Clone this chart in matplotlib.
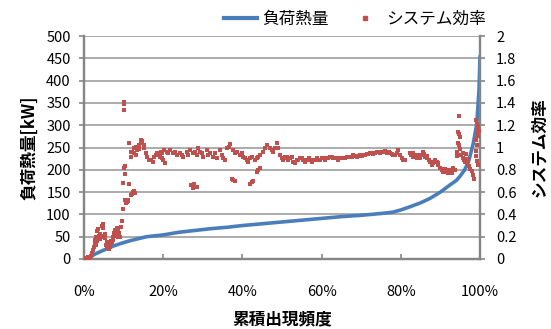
import numpy as np
import matplotlib
matplotlib.use("Agg")
import matplotlib.pyplot as plt
from matplotlib.lines import Line2D

plt.rcParams['font.family'] = ['Noto Sans CJK JP', 'DejaVu Sans']

# ---------------- data ----------------
load_x = [0, 0.010, 0.015, 0.020, 0.030, 0.040, 0.050, 0.074, 0.090, 0.116, 0.158, 0.200,
          0.240, 0.280, 0.320, 0.360, 0.400, 0.450, 0.500, 0.550, 0.600, 0.650, 0.700, 0.750,
          0.780, 0.800, 0.823, 0.850, 0.874, 0.900, 0.924, 0.940, 0.949, 0.960, 0.971, 0.983,
          0.992, 0.9975, 1.0]
load_y = [0, 0, 2, 7, 12, 16, 20, 29, 34, 41, 50, 54,
          60, 64, 68, 71, 75, 79, 83, 87, 91, 95, 98, 102,
          105, 110, 117, 126, 136, 150, 166, 176, 185, 198, 218, 259,
          304, 379, 455]

low_x = [0.003, 0.006, 0.009, 0.012, 0.015, 0.018, 0.021, 0.023, 0.025, 0.027, 0.028, 0.030,
         0.031, 0.033, 0.034, 0.036, 0.038, 0.040, 0.041, 0.043, 0.045, 0.047, 0.048, 0.050,
         0.052, 0.054, 0.055, 0.057, 0.058, 0.060, 0.062, 0.064, 0.066, 0.068, 0.070, 0.072,
         0.074, 0.076, 0.078, 0.079, 0.081, 0.083, 0.084, 0.086, 0.087, 0.089, 0.091, 0.093,
         0.096, 0.098]
low_y = [0.01, 0.00, 0.02, 0.01, 0.02, 0.03, 0.05, 0.08, 0.11, 0.14, 0.17, 0.13,
         0.20, 0.16, 0.25, 0.27, 0.21, 0.18, 0.22, 0.20, 0.30, 0.31, 0.28, 0.21,
         0.19, 0.22, 0.13, 0.15, 0.10, 0.12, 0.09, 0.14, 0.11, 0.16, 0.14, 0.17,
         0.20, 0.23, 0.21, 0.26, 0.24, 0.22, 0.28, 0.25, 0.20, 0.23, 0.20, 0.29,
         0.34, 0.45]

rise_x = [0.100, 0.101, 0.102, 0.101, 0.103, 0.104, 0.099, 0.113, 0.104, 0.106, 0.108, 0.110,
          0.112, 0.118, 0.121, 0.124, 0.127, 0.130]
rise_y = [1.41, 1.39, 1.34, 0.82, 0.83, 0.76, 0.68, 0.67, 0.53, 0.50, 0.51, 0.52,
          0.53, 0.57, 0.58, 0.60, 0.61, 0.59]

band_a_x = [0.114, 0.118, 0.122, 0.126, 0.131, 0.135, 0.139, 0.143, 0.147, 0.152, 0.156, 0.160,
            0.164, 0.168, 0.173, 0.177, 0.181, 0.185, 0.189, 0.194, 0.198, 0.202,
            0.118, 0.126, 0.139, 0.143, 0.147, 0.152, 0.131]
band_a_y = [1.037, 0.918, 0.962, 0.992, 1.007, 0.977, 1.022, 1.067, 1.037, 0.992, 0.947, 0.918,
            0.888, 0.888, 0.873, 0.918, 0.933, 0.947, 0.933, 0.962, 0.947, 0.977,
            0.96, 0.95, 0.99, 1.04, 1.06, 1.02, 0.93]

band_b_x = [0.192, 0.200, 0.205, 0.209, 0.217, 0.226, 0.234, 0.242, 0.251, 0.259, 0.268, 0.276,
            0.285, 0.289, 0.293, 0.301, 0.310, 0.318, 0.327, 0.335, 0.343, 0.352, 0.356, 0.360,
            0.365, 0.369, 0.377, 0.386, 0.394, 0.402, 0.411, 0.415, 0.423, 0.432, 0.440, 0.444,
            0.453, 0.461, 0.470, 0.478, 0.487, 0.491, 0.495, 0.503, 0.512, 0.520,
            0.196, 0.213, 0.230, 0.247, 0.263, 0.280, 0.297, 0.314, 0.331, 0.348, 0.381, 0.398,
            0.406, 0.419, 0.436, 0.457, 0.474, 0.482, 0.499, 0.516]
band_b_y = [0.917, 0.888, 0.858, 0.962, 0.977, 0.947, 0.932, 0.947, 0.917, 0.962, 0.977, 0.947,
            0.932, 0.992, 0.962, 0.917, 0.977, 0.947, 0.917, 0.902, 0.977, 0.902, 0.888, 0.992,
            1.007, 1.028, 0.977, 0.962, 0.932, 0.917, 0.888, 0.873, 0.917, 0.888, 0.917, 0.932,
            0.962, 1.022, 0.992, 0.962, 1.037, 0.992, 0.932, 0.888, 0.917, 0.902,
            0.902, 0.947, 0.962, 0.932, 0.932, 0.962, 0.947, 0.932, 0.947, 0.932, 0.947, 0.947,
            0.902, 0.902, 0.902, 0.992, 0.977, 0.992, 0.902, 0.888]

band_c_x = [0.508, 0.516, 0.524, 0.533, 0.541, 0.550, 0.558, 0.567, 0.575, 0.583, 0.592, 0.600,
            0.609, 0.617, 0.625, 0.634, 0.642, 0.651, 0.659, 0.668, 0.676, 0.684, 0.693, 0.701,
            0.710, 0.718, 0.726, 0.735, 0.743, 0.752, 0.760, 0.769, 0.777, 0.785, 0.794, 0.802,
            0.811,
            0.512, 0.520, 0.529, 0.537, 0.546, 0.554, 0.562, 0.571, 0.579, 0.588, 0.596, 0.604,
            0.613, 0.621, 0.630, 0.638, 0.647, 0.655, 0.663, 0.672, 0.680, 0.689, 0.697, 0.705,
            0.714, 0.722, 0.731, 0.739, 0.748, 0.756, 0.764, 0.773, 0.781, 0.790, 0.798, 0.806]
band_c_y = [0.917, 0.902, 0.917, 0.858, 0.888, 0.902, 0.873, 0.902, 0.873, 0.888, 0.888, 0.902,
            0.888, 0.902, 0.917, 0.902, 0.888, 0.902, 0.902, 0.917, 0.917, 0.926, 0.923, 0.926,
            0.932, 0.938, 0.947, 0.947, 0.956, 0.962, 0.968, 0.956, 0.938, 0.932, 0.977, 0.902,
            0.888,
            0.902, 0.902, 0.873, 0.888, 0.902, 0.888, 0.888, 0.888, 0.888, 0.902, 0.888, 0.902,
            0.902, 0.917, 0.902, 0.902, 0.902, 0.902, 0.917, 0.917, 0.932, 0.917, 0.932, 0.932,
            0.938, 0.947, 0.938, 0.956, 0.947, 0.962, 0.947, 0.947, 0.932, 0.947, 0.932, 0.888]

band_d_x = [0.823, 0.827, 0.832, 0.836, 0.840, 0.844, 0.848, 0.853, 0.857, 0.861, 0.865, 0.870,
            0.874, 0.878, 0.882, 0.886, 0.891, 0.895, 0.899, 0.903, 0.907, 0.912, 0.916, 0.920,
            0.924, 0.928, 0.933, 0.937,
            0.830, 0.845, 0.858, 0.866, 0.880, 0.893, 0.905, 0.914, 0.922, 0.930, 0.934]
band_d_y = [0.947, 0.933, 0.918, 0.933, 0.903, 0.918, 0.903, 0.933, 0.963, 0.918, 0.903, 0.888,
            0.873, 0.843, 0.858, 0.888, 0.873, 0.843, 0.813, 0.798, 0.784, 0.804, 0.784, 0.769,
            0.798, 0.784, 0.813, 0.798,
            0.95, 0.93, 0.94, 0.92, 0.87, 0.86, 0.81, 0.80, 0.79, 0.77, 0.80]

tail_x = [0.948, 0.945, 0.947, 0.949, 0.944, 0.946, 0.950, 0.943, 0.952, 0.956, 0.960, 0.964,
          0.962, 0.968, 0.972, 0.975, 0.979, 0.983, 0.986, 0.941, 0.958, 0.966, 0.970,
          0.990, 0.992, 0.994, 0.993, 0.991, 0.992, 0.990, 0.991, 0.993, 0.994, 0.996, 0.997,
          0.995]
tail_y = [1.28, 1.14, 1.12, 1.09, 1.04, 1.02, 0.99, 0.96, 0.93, 0.91, 0.89, 0.94,
          0.87, 0.85, 0.83, 0.81, 0.79, 0.75, 0.72, 0.92, 0.95, 0.90, 0.88,
          1.25, 1.21, 1.17, 1.13, 1.07, 1.02, 0.97, 0.92, 0.88, 0.84, 1.19, 1.15,
          1.10]

outlier_x = [0.270, 0.275, 0.280, 0.285, 0.278, 0.373, 0.377, 0.381, 0.419, 0.423, 0.427,
             0.436, 0.440, 0.444]
outlier_y = [0.66, 0.64, 0.65, 0.65, 0.67, 0.72, 0.71, 0.70, 0.67, 0.69, 0.70,
             0.78, 0.80, 0.82]

eff_x = low_x + rise_x + band_a_x + band_b_x + band_c_x + band_d_x + tail_x + outlier_x
eff_y = low_y + rise_y + band_a_y + band_b_y + band_c_y + band_d_y + tail_y + outlier_y

left_ticks = [0, 50, 100, 150, 200, 250, 300, 350, 400, 450, 500]
right_ticks = [0, 0.2, 0.4, 0.6, 0.8, 1.0, 1.2, 1.4, 1.6, 1.8, 2.0]
right_labels = ['0', '0.2', '0.4', '0.6', '0.8', '1', '1.2', '1.4', '1.6', '1.8', '2']
x_ticks = [0, 0.2, 0.4, 0.6, 0.8, 1.0]
x_labels = ['0%', '20%', '40%', '60%', '80%', '100%']

# ---------------- style ----------------
blue = '#4A7EBB'
red = '#C0504D'
grid_c = '#ABABAB'
spine_c = '#868686'
fs = 10.5

fig = plt.figure(figsize=(5.51, 3.29), dpi=100)
ax = fig.add_axes([84/551, 1-259/329, 396/551, 223/329])
ax2 = ax.twinx()

ax.plot(load_x, load_y, color=blue, lw=2.6, solid_capstyle='round', zorder=3)
ax2.scatter(eff_x, eff_y, s=6.5, marker='s', color=red, linewidths=0, zorder=3)

ax.set_xlim(0, 1)
ax.set_ylim(0, 500)
ax2.set_ylim(0, 2)
ax.set_yticks(left_ticks)
ax.set_yticklabels([str(v) for v in left_ticks])
ax2.set_yticks(right_ticks)
ax2.set_yticklabels(right_labels)
ax.set_xticks(x_ticks)
ax.set_xticklabels(x_labels)

ax.yaxis.grid(True, color=grid_c, lw=1.4)
ax.set_axisbelow(True)

for a in (ax, ax2):
    a.spines['top'].set_visible(False)
    for s in ('left', 'right', 'bottom'):
        a.spines[s].set_color(spine_c)
        a.spines[s].set_linewidth(1.6)

ax.tick_params(axis='y', direction='out', length=3.5, width=1.2, color=spine_c,
               labelsize=fs, pad=6)
ax2.tick_params(axis='y', direction='out', length=3.5, width=1.2, color=spine_c,
                labelsize=fs, pad=8)
ax.tick_params(axis='x', direction='in', length=3.5, width=1.2, color=spine_c,
               labelsize=fs, pad=19)

ax.set_xlabel('累積出現頻度', fontsize=12, fontweight='bold', labelpad=8)
ax.set_ylabel('負荷熱量[kW]', fontsize=12, fontweight='bold', labelpad=6)
ax2.set_ylabel('システム効率', fontsize=12, fontweight='bold', labelpad=10)

handles = [Line2D([], [], color=blue, lw=3),
           Line2D([], [], color=red, marker='s', markersize=2.3, lw=0)]
fig.legend(handles, ['負荷熱量', 'システム効率'], loc='center',
           bbox_to_anchor=(355/551, 1-19/329), ncol=2, frameon=False,
           fontsize=12, handlelength=2.0, handletextpad=0.3, columnspacing=1.2)

fig.savefig('out.png', dpi=100)
